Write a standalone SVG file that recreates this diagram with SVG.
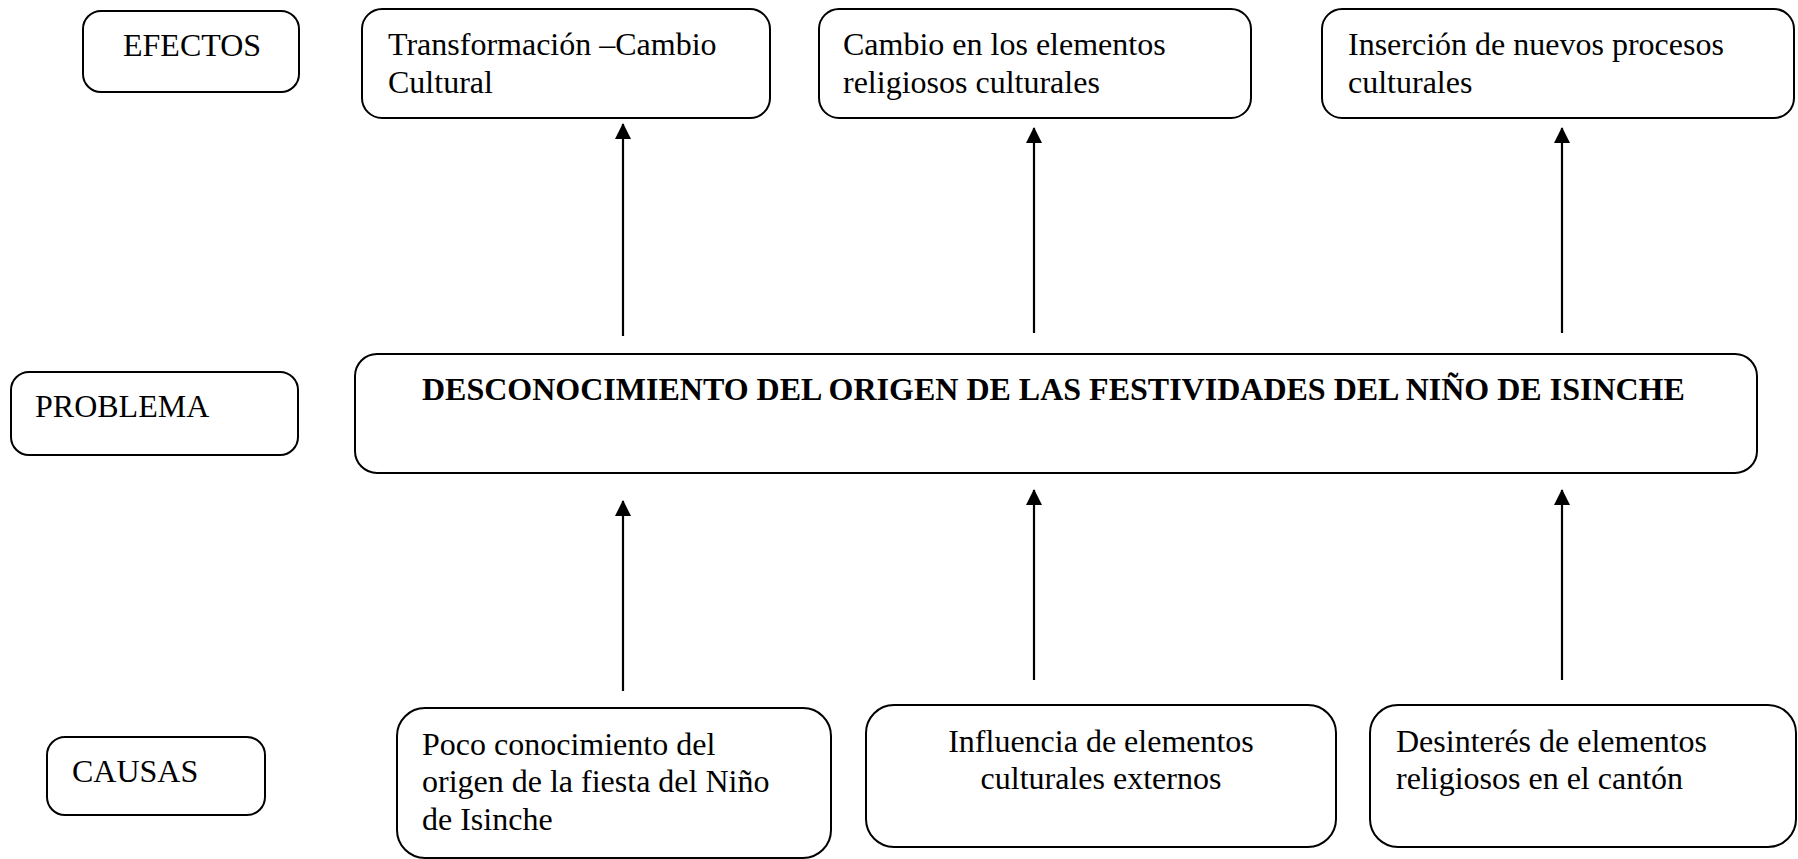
<svg xmlns="http://www.w3.org/2000/svg" width="1798" height="859" viewBox="0 0 1798 859">
<style>
.box{fill:#fff;stroke:#000;stroke-width:2}
.t{font-family:"Liberation Serif","Times New Roman",serif;font-size:32px;fill:#000}
.b{font-weight:bold}
.c{text-anchor:middle}
.arr{stroke:#000;stroke-width:2.2;fill:none;marker-end:url(#ah)}
</style>
<defs>
<marker id="ah" viewBox="0 0 16 16" refX="15" refY="8" markerWidth="16" markerHeight="16" markerUnits="userSpaceOnUse" orient="auto">
<path d="M0,0 L16,8 L0,16 z" fill="#000"/>
</marker>
</defs>
<rect width="1798" height="859" fill="#fff"/>
<g id="efectos">
<rect class="box" x="83" y="11" width="216" height="81" rx="18"/>
<text class="t" x="123" y="56">EFECTOS</text>
</g>
<g id="efecto1">
<rect class="box" x="362" y="9" width="408" height="109" rx="20"/>
<text class="t" x="388" y="55">Transformación –Cambio</text>
<text class="t" x="388" y="93">Cultural</text>
</g>
<g id="efecto2">
<rect class="box" x="819" y="9" width="432" height="109" rx="20"/>
<text class="t" x="843" y="55">Cambio en los elementos</text>
<text class="t" x="843" y="93">religiosos culturales</text>
</g>
<g id="efecto3">
<rect class="box" x="1322" y="9" width="472" height="109" rx="20"/>
<text class="t" x="1348" y="55">Inserción de nuevos procesos</text>
<text class="t" x="1348" y="93">culturales</text>
</g>
<g id="problema-label">
<rect class="box" x="11" y="372" width="287" height="83" rx="18"/>
<text class="t" x="35" y="417">PROBLEMA</text>
</g>
<g id="problema">
<rect class="box" x="355" y="354" width="1402" height="119" rx="22"/>
<text class="t b" x="422" y="400">DESCONOCIMIENTO DEL ORIGEN DE LAS FESTIVIDADES DEL NIÑO DE ISINCHE</text>
</g>
<g id="causas">
<rect class="box" x="47" y="737" width="218" height="78" rx="18"/>
<text class="t" x="72" y="782">CAUSAS</text>
</g>
<g id="causa1">
<rect class="box" x="397" y="708" width="434" height="150" rx="28"/>
<text class="t" x="422" y="755">Poco conocimiento del</text>
<text class="t" x="422" y="792">origen de la fiesta del Niño</text>
<text class="t" x="422" y="830">de Isinche</text>
</g>
<g id="causa2">
<rect class="box" x="866" y="705" width="470" height="142" rx="28"/>
<text class="t c" x="1101" y="752">Influencia de elementos</text>
<text class="t c" x="1101" y="789">culturales externos</text>
</g>
<g id="causa3">
<rect class="box" x="1370" y="705" width="426" height="142" rx="28"/>
<text class="t" x="1396" y="752">Desinterés de elementos</text>
<text class="t" x="1396" y="789">religiosos en el cantón</text>
</g>
<g id="connectors">
<line class="arr" x1="623" y1="336" x2="623" y2="124"/>
<line class="arr" x1="1034" y1="333" x2="1034" y2="128"/>
<line class="arr" x1="1562" y1="333" x2="1562" y2="128"/>
<line class="arr" x1="623" y1="691" x2="623" y2="501"/>
<line class="arr" x1="1034" y1="680" x2="1034" y2="490"/>
<line class="arr" x1="1562" y1="680" x2="1562" y2="490"/>
</g>
</svg>
